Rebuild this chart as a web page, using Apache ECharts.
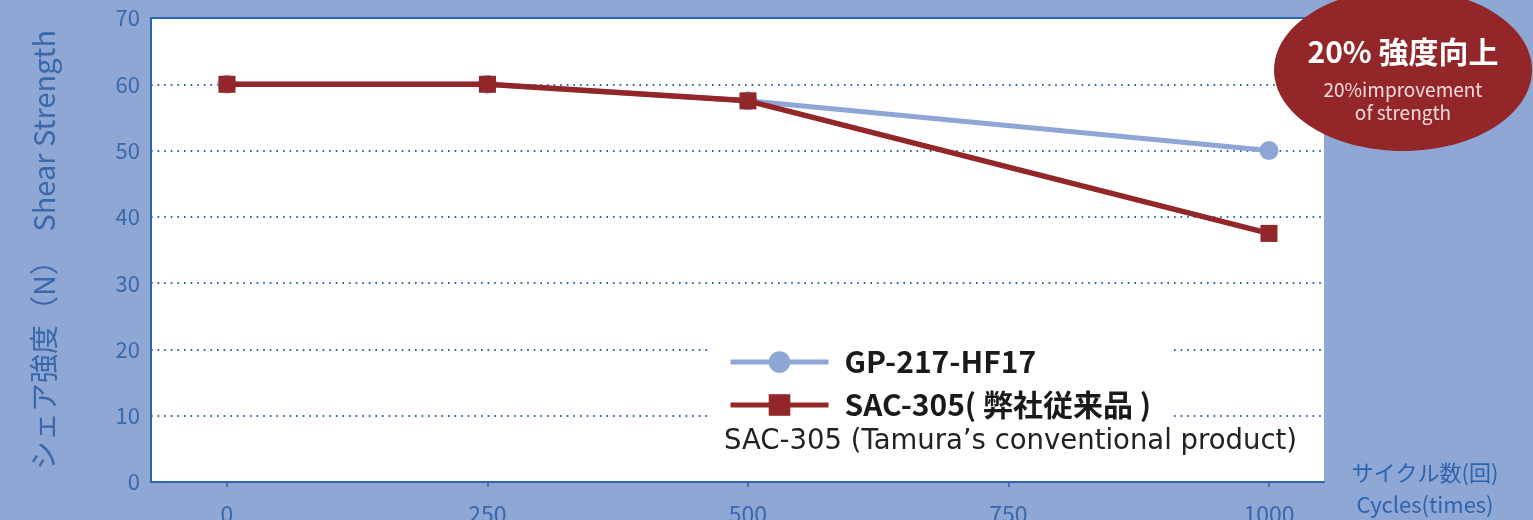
<!DOCTYPE html>
<html>
<head>
<meta charset="utf-8">
<script src="https://cdn.jsdelivr.net/npm/echarts@6/dist/echarts.min.js"></script>
<style>
  html, body { margin: 0; padding: 0; background: #8fa7d4; }
  #chart { width: 1533px; height: 520px; }
</style>
</head>
<body>
<div id="chart"></div>
<script>
  const cycles = [0, 250, 500, 1000];
  const gpValues = [60, 60, 57.5, 50];
  const sacValues = [60, 60, 57.5, 37.5];
  const xTicks = [0, 250, 500, 750, 1000];
  const seriesNames = ["GP-217-HF17", "SAC-305( 弊社従来品 )"];

  const blue = "#2d64ad";
  const labelBlue = "#3a68ab";
  const lightBlue = "#8ea6d5";
  const red = "#932628";
  const font = "'Noto Sans CJK JP', 'Noto Sans', sans-serif";

  function pairs(values) {
    return cycles.map(function (c, i) { return [c, values[i]]; });
  }

  const chart = echarts.init(document.getElementById("chart"));
  chart.setOption({
    backgroundColor: "#8fa7d4",
    textStyle: { fontFamily: font },
    grid: {
      left: 151, right: 209, top: 18, bottom: 38,
      outerBoundsMode: "none",
      containLabel: false,
      show: true, backgroundColor: "#fff", borderWidth: 0
    },
    legend: {
      data: seriesNames,
      orient: "vertical",
      left: 708,
      top: 342,
      padding: [5, 20, 5, 20],
      backgroundColor: "#fff",
      itemWidth: 98,
      itemHeight: 27,
      itemGap: 13,
      lineStyle: { width: 5 },
      textStyle: { fontSize: 30, fontWeight: "bold", color: "#1a1a1a", lineHeight: 30, padding: [0, 0, 0, 11] }
    },
    xAxis: [
      {
        type: "value",
        min: -72.9,
        max: 1052.8,
        axisLine: { onZero: false, lineStyle: { color: blue, width: 2 } },
        axisTick: { show: true, length: 5, customValues: xTicks, lineStyle: { color: blue, width: 1.5 } },
        axisLabel: {
          customValues: xTicks,
          color: labelBlue,
          fontSize: 23,
          margin: 21,
          formatter: function (v) { return String(v); }
        },
        splitLine: { show: false }
      },
      {
        type: "value",
        position: "top",
        min: -72.9,
        max: 1052.8,
        axisLine: { show: true, onZero: false, lineStyle: { color: blue, width: 2 } },
        axisTick: { show: false },
        axisLabel: { show: false },
        splitLine: { show: false }
      }
    ],
    yAxis: {
      type: "value",
      min: 0,
      max: 70,
      interval: 10,
      name: "シェア強度（N）　Shear Strength",
      nameLocation: "middle",
      nameRotate: 90,
      nameGap: 93,
      nameTextStyle: { color: labelBlue, fontSize: 29 },
      axisLine: { show: true, onZero: false, lineStyle: { color: blue, width: 2 } },
      axisTick: { show: false },
      axisLabel: { color: labelBlue, fontSize: 22, margin: 11 },
      splitLine: {
        show: true,
        showMinLine: false,
        showMaxLine: false,
        lineStyle: { color: blue, width: 2, type: [1.6, 5] }
      }
    },
    series: [
      {
        name: seriesNames[0],
        type: "line",
        data: pairs(gpValues),
        symbol: "circle",
        symbolSize: 19,
        lineStyle: { color: lightBlue, width: 5 },
        itemStyle: { color: lightBlue },
        z: 2
      },
      {
        name: seriesNames[1],
        type: "line",
        data: pairs(sacValues),
        symbol: "rect",
        symbolSize: [17, 17],
        lineStyle: { color: red, width: 5.5 },
        itemStyle: { color: red },
        z: 3
      }
    ],
    graphic: [
      {
        type: "text",
        x: 1425,
        y: 489,
        z: 10,
        style: {
          text: "サイクル数(回)\nCycles(times)",
          fill: blue,
          font: "22px " + font,
          lineHeight: 32,
          textAlign: "center",
          textVerticalAlign: "middle"
        }
      },
      {
        type: "text",
        x: 724,
        y: 442,
        z: 10,
        style: { text: "SAC-305 (Tamura’s conventional product)", fill: "#222", font: "27.5px 'DejaVu Sans', sans-serif", textVerticalAlign: "middle" }
      },
      {
        type: "ellipse",
        z: 20,
        shape: { cx: 1403, cy: 70, rx: 129, ry: 81 },
        style: { fill: red }
      },
      {
        type: "text",
        x: 1403,
        y: 52,
        z: 21,
        style: { text: "20% 強度向上", fill: "#fff", font: "bold 30px " + font, textAlign: "center", textVerticalAlign: "middle" }
      },
      {
        type: "text",
        x: 1403,
        y: 90,
        z: 21,
        style: { text: "20%improvement", fill: "#f3dcdc", font: "19px " + font, textAlign: "center", textVerticalAlign: "middle" }
      },
      {
        type: "text",
        x: 1403,
        y: 113,
        z: 21,
        style: { text: "of strength", fill: "#f3dcdc", font: "19px " + font, textAlign: "center", textVerticalAlign: "middle" }
      }
    ]
  });
</script>
</body>
</html>
